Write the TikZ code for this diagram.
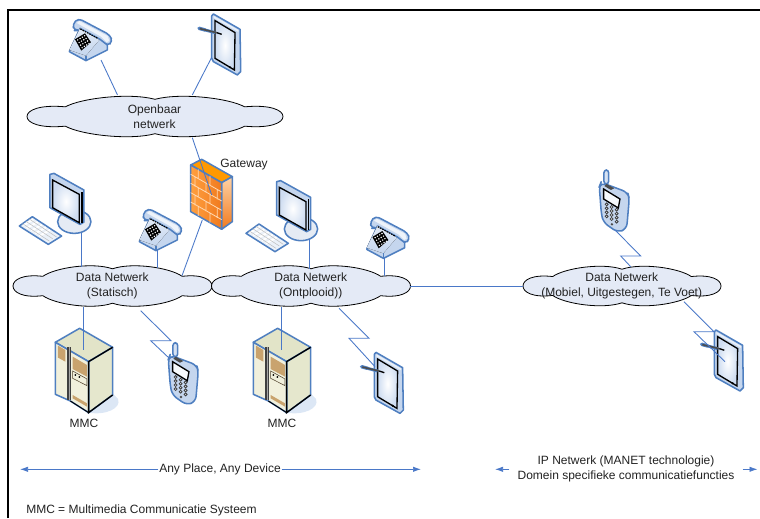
\documentclass[tikz,border=0pt]{standalone}
\usepackage{fontspec}
\setmainfont{Liberation Sans}
\usetikzlibrary{arrows.meta,shadings}
\definecolor{linkc}{HTML}{4A78C8}
\definecolor{devedge}{HTML}{4F7FC0}
\definecolor{devfill}{HTML}{C5D6EE}
\definecolor{cloudc}{HTML}{E4EAF6}
\definecolor{txt}{HTML}{222222}
\definecolor{creamA}{HTML}{F1F0DC}
\definecolor{creamB}{HTML}{E2E4C8}
\definecolor{ventc}{HTML}{C9A36E}
\definecolor{brick}{HTML}{F07A1E}
\tikzset{
 lnk/.style={draw=linkc,line width=.65pt},
 dimarrow/.style={draw=linkc,line width=.55pt,-{Latex[length=6pt,width=4pt]}},
 lbl/.style={font=\fontsize{9}{10.9}\selectfont,text=txt,align=center,inner sep=0pt},
 dev/.style={draw=devedge,line width=1.15pt,line join=round},
 cloudpic/.pic={
  \draw[fill=cloudc,draw=black,line width=.6pt]
   (-1,0) .. controls (-1,-.3) and (-.9,-.56) .. (-.7,-.45)
   .. controls (-.58,-.85) and (-.2,-1.12) .. (0,-.8)
   .. controls (.2,-1.12) and (.58,-.85) .. (.7,-.45)
   .. controls (.9,-.56) and (1,-.3) .. (1,0)
   .. controls (1,.3) and (.9,.56) .. (.7,.45)
   .. controls (.58,.85) and (.2,1.12) .. (0,.8)
   .. controls (-.2,1.12) and (-.58,.85) .. (-.7,.45)
   .. controls (-.9,.56) and (-1,.3) .. (-1,0) -- cycle;
 },
 deskphone/.pic={
  \draw[dev,fill=devfill,rounded corners=3pt] (10,17)--(27,0)--(122,50)--(130,70)--(114,83)--(92,63)--(27,35)--(14,37)--cycle;
  \fill[white!70!devfill] (22,14)--(30,8)--(115,53)--(120,68)--(112,72)--(95,55)--cycle;
  \draw[dev,fill=devfill] (32,30)--(92,63)--(114,80)--(114,95)--(50,127)--(0,100)--cycle;
  \fill[top color=white!50!devfill,bottom color=devfill] (32,30)--(90,65)--(50,112)--(0,95)--cycle;
  \draw[black,line width=.8pt,dash pattern=on 1.2pt off .7pt] (33,32)--(85,60);
  \fill[black] (17,63)--(47,45)--(65,72)--(36,97)--cycle;
  \foreach \u in {.18,.41,.64,.87}\foreach \v in {.15,.38,.61,.84}
   \fill[white] ({17+30*\u+19*\v},{63-18*\u+34*\v}) circle (2.4);
  \draw[devedge,line width=.9pt] (50,112)--(50,127);
 },
 tabletpic/.pic={
  \draw[dev,fill=devfill] (0,8)--(5,2)--(85,48)--(87,175)--(77,185)--(5,145)--(0,135)--cycle;
  \fill[white!60!devfill] (6,8)--(80,50)--(80,56)--(6,14)--cycle;
  \draw[black,line width=1pt,inner color=white,outer color=devfill!85] (10,22)--(70,58)--(68,170)--(10,135)--cycle;
  \fill[black] (55,162) circle (3.5);
  \draw[devedge,line width=2.6pt,line cap=round] (-38,45)--(-20,50);
  \draw[devedge,line width=2.2pt] (-20,50)--(10,58);
  \draw[black!70,line width=1.2pt] (-36,46)--(15,58);
  \draw[black,line width=1pt] (15,58)--(30,63);
 },
 monitorpic/.pic={
  \draw[dev,fill=black!4!devfill!40] (165,147) ellipse (50 and 35);
  \draw[dev,fill=devfill] (92,5)--(104,2)--(194,52)--(194,148)--(182,155)--(92,105)--cycle;
  \draw[black,line width=1pt,inner color=white,outer color=devfill!85] (100,22)--(180,65)--(180,150)--(100,105)--cycle;
  \draw[black,line width=1pt] (188,58)--(188,150);
  \draw[dev,fill=devfill!35] (0,160)--(39,132)--(127,190)--(87,215)--cycle;
  \draw[white,line width=1.5pt] (12,158)--(42,140) (22,166)--(55,148) (36,174)--(68,156) (48,182)--(80,164) (60,190)--(92,172);
  \draw[black!25,line width=.4pt] (10,153)--(90,205) (20,146)--(100,198) (30,139)--(112,193);
 },
 serverpic/.pic={
  \fill[devfill!60] (100,253) .. controls (150,262) and (200,240) .. (188,212) -- (172,195) -- cycle;
  \draw[dev,fill=creamB] (0,42)--(73,0)--(172,57)--(100,100)--cycle;
  \draw[dev,fill=creamB!90!white] (100,100)--(172,57)--(172,200)--(100,253)--cycle;
  \draw[dev,fill=creamA] (0,42)--(100,100)--(100,253)--(45,218)--(0,198)--cycle;
  \draw[black,line width=1pt] (172,57)--(100,100)--(100,253)--(172,200);
  \draw[black,line width=.7pt] (100,253)--(45,218);
  \fill[black!75] (34,55) rectangle (48,215);
  \draw[black!35,line width=.5pt] (41,55)--(41,215);
  \fill[ventc] (8,52)--(30,65)--(30,100)--(8,88)--cycle;
  \fill[ventc] (52,85)--(95,110)--(95,145)--(52,122)--cycle;
  \draw[black!60!ventc,fill=creamA] (52,128)--(95,152)--(95,172)--(52,150)--cycle;
  \fill[black] (60,140) circle (3) (72,146) circle (3);
  \fill[ventc] (52,200)--(95,225)--(95,235)--(52,210)--cycle;
 },
 cellpic/.pic={
  \draw[dev,fill=devfill!70,rounded corners=2pt] (14,0)--(28,0)--(28,42)--(14,42)--cycle;
  \draw[dev,fill=devfill,rounded corners=4pt] (5,37)--(85,67)--(90,85)--(82,177)--(55,187)--(12,157)--(6,130)--(0,50)--cycle;
  \fill[black!70] (22,42)--(45,55)--(35,60)--(15,48)--cycle;
  \draw[black,line width=1pt,fill=white!85!devfill] (13,57)--(62,87)--(57,114)--(13,87)--cycle;
  \foreach \r in {0,1,2,3}\foreach \c in {0,1,2}
   \draw[black!75,line width=.6pt,fill=devfill!50] ({22+15*\c},{103+12*\r+8*\c}) circle (4.4);
  \fill[black!70] (38,163) circle (4);
 },
 wallpic/.pic={
  \draw[dev,fill=orange!80!yellow] (2,17)--(35,0)--(127,52)--(95,70)--cycle;
  \draw[dev,top color=orange!35!white,bottom color=brick] (95,70)--(127,52)--(127,187)--(95,210)--cycle;
  \draw[dev,left color=orange!75!white,right color=brick] (2,17)--(95,70)--(95,210)--(2,157)--cycle;
  \draw[white!70!orange,line width=.6pt]
   (2,45)--(95,98) (2,72)--(95,125) (2,100)--(95,153) (2,128)--(95,181)
   (25,30)--(25,58) (60,50)--(60,78) (15,54)--(15,82) (48,72)--(48,100) (82,92)--(82,120)
   (25,86)--(25,114) (60,106)--(60,134) (15,110)--(15,138) (48,128)--(48,156) (82,148)--(82,176)
   (25,142)--(25,170) (60,162)--(60,190);
 },
}
\begin{document}
\begin{tikzpicture}[x=.75pt,y=-.75pt]
\useasboundingbox (0,0) rectangle (760,518);
\draw[black,line width=1.5pt] (8,518)--(8,10)--(760,10);

% clouds
\pic[xscale=128,yscale=21.5] at (155,116.5) {cloudpic};
\pic[xscale=99.5,yscale=21.5] at (112.5,286) {cloudpic};
\pic[xscale=99.5,yscale=21.5] at (311,286) {cloudpic};
\pic[xscale=99,yscale=21] at (622,286) {cloudpic};

% devices
\pic[scale=.3333] at (69.3,18.3) {deskphone};
\pic[scale=.3333] at (139.3,208.3) {deskphone};
\pic[scale=.3333] at (366.7,216) {deskphone};
\pic[scale=.3333] at (211.7,13.3) {tabletpic};
\pic[scale=.3333] at (374.3,351.7) {tabletpic};
\pic[scale=.3333] at (714.3,329.3) {tabletpic};
\pic[scale=.3333] at (19.3,172.7) {monitorpic};
\pic[scale=.3333] at (246,180) {monitorpic};
\pic[scale=.3333] at (55.3,328.3) {serverpic};
\pic[scale=.3333] at (253.3,328.3) {serverpic};
\pic[scale=.3333] at (168.3,342.7) {cellpic};
\pic[scale=.3333] at (599.3,170) {cellpic};
\pic[scale=.3333] at (190,159.3) {wallpic};

% connector anchors
\coordinate (telA) at (101,60);       \coordinate (pubA) at (117.5,95);
\coordinate (tabA) at (211.7,57.3);   \coordinate (pubB) at (192.3,95);
\coordinate (pubC) at (192.3,137.7);  \coordinate (wallT) at (211.7,195);
\coordinate (wallB) at (202.3,220);   \coordinate (statA) at (182,275.7);
\coordinate (monA) at (81.7,233);     \coordinate (statB) at (81.7,266.5);
\coordinate (telB) at (157,250);      \coordinate (statC) at (157,268);
\coordinate (statD) at (83.3,307);    \coordinate (srvA) at (83.3,350);
\coordinate (statE) at (140.7,310.7); \coordinate (zA1) at (171,340.7);
\coordinate (zA2) at (150.7,340.7);   \coordinate (celA) at (169.3,358.3);
\coordinate (monB) at (309,239);      \coordinate (deplA) at (309,268.5);
\coordinate (telC) at (384.3,258);    \coordinate (deplB) at (384.3,275.7);
\coordinate (deplC) at (410,286);     \coordinate (mobA) at (523,286);
\coordinate (deplD) at (281.7,306.7); \coordinate (srvB) at (281.7,350);
\coordinate (deplE) at (339,308.3);   \coordinate (zB1) at (369,338.3);
\coordinate (zB2) at (349,338.3);     \coordinate (tabB) at (375,366.7);
\coordinate (celB) at (615,230);      \coordinate (zC1) at (640.7,256);
\coordinate (zC2) at (620.7,256);     \coordinate (mobB) at (630.7,266.7);
\coordinate (mobC) at (684,301.7);    \coordinate (zD1) at (714,331.7);
\coordinate (zD2) at (694,331.7);     \coordinate (tabC) at (725,361.7);

% connectors
\draw[lnk] (telA)--(pubA);
\draw[lnk] (tabA)--(pubB);
\draw[lnk] (pubC)--(wallT);
\draw[lnk] (wallB)--(statA);
\draw[lnk] (monA)--(statB);
\draw[lnk] (telB)--(statC);
\draw[lnk] (statD)--(srvA);
\draw[lnk] (statE)--(zA1)--(zA2)--(celA);
\draw[lnk] (monB)--(deplA);
\draw[lnk] (telC)--(deplB);
\draw[lnk] (deplC)--(mobA);
\draw[lnk] (deplD)--(srvB);
\draw[lnk] (deplE)--(zB1)--(zB2)--(tabB);
\draw[lnk] (celB)--(zC1)--(zC2)--(mobB);
\draw[lnk] (mobC)--(zD1)--(zD2)--(tabC);

% labels
\node[lbl] (pubT) at (154.5,116.5) {Openbaar\\netwerk};
\node[lbl] (gw) at (244,165) {Gateway};
\node[lbl] (statT) at (112.3,286) {Data Netwerk\\(Statisch)};
\node[lbl] (deplT) at (310.7,286) {Data Netwerk\\(Ontplooid))};
\node[lbl] (mobT) at (621.7,286) {Data Netwerk\\(Mobiel, Uitgestegen, Te Voet)};
\node[lbl] (mmcA) at (84,423.5) {MMC};
\node[lbl] (mmcB) at (282,423.5) {MMC};
\node[lbl,inner xsep=.5pt] (anyT) at (220,469) {Any Place, Any Device};
\node[lbl,inner xsep=6pt] (ipT) at (626,469) {IP Netwerk (MANET technologie)\\Domein specifieke communicatiefuncties};
\node[lbl,anchor=west] (note) at (26,510.7) {MMC = Multimedia Communicatie Systeem};

% range arrows
\coordinate (anyL) at (20,469.3);  \coordinate (anyR) at (421,469.3);
\coordinate (ipL) at (495,469.3);  \coordinate (ipR) at (757.5,469.3);
\draw[dimarrow] (anyT.west|-anyL)--(anyL);
\draw[dimarrow] (anyT.east|-anyR)--(anyR);
\draw[dimarrow] (ipT.west|-ipL)--(ipL);
\draw[dimarrow] (ipT.east|-ipR)--(ipR);
\end{tikzpicture}
\end{document}
